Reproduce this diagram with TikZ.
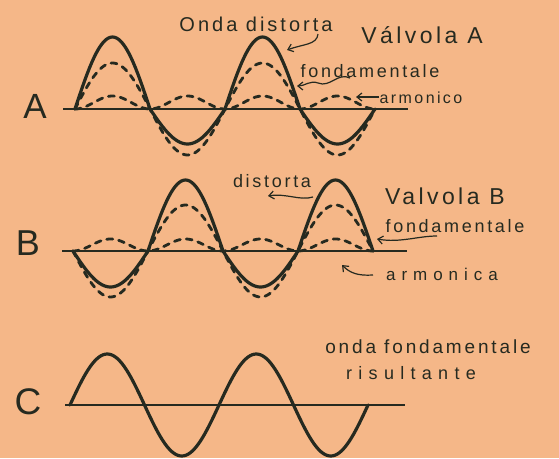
\documentclass[tikz,border=0pt]{standalone}
\usepackage{fontspec}
\setmainfont{Liberation Sans}
\newfontfamily\handfont[LetterSpace=15]{Liberation Sans}
\newfontfamily\widefont[LetterSpace=35]{Liberation Sans}
\usetikzlibrary{arrows.meta}
\definecolor{paper}{RGB}{245,183,136}
\definecolor{ink}{RGB}{38,42,32}
\newcommand{\penfont}[1]{\handfont\fontsize{#1}{#1}\selectfont}
\newcommand{\widepen}[1]{\widefont\fontsize{#1}{#1}\selectfont}
\tikzset{
  wave/.style={ink, line width=3.2pt, line cap=round, line join=round},
  dashwave/.style={ink, line width=2.8pt, line cap=round, dash pattern=on 6pt off 6pt},
  axis/.style={ink, line width=2.8pt},
  pointer/.style={ink, line width=1.2pt, -{Straight Barb[length=5pt,width=8pt]}},
  lbl/.style={ink, inner sep=0pt}
}
\begin{document}
\begin{tikzpicture}[x=1pt, y=-1pt]
    % Paper
    \fill[paper] (0,0) rectangle (559,458);

    % Valvola A
    \node[lbl, font=\penfont{35}] (labA) at (35,106) {A};
    \draw[axis] (63,109) -- (408,109);
    \draw[wave] plot[domain=0:720, samples=145] ({75+\x/2.4}, {109-((sin(\x)>0) ? 72 : 35)*sin(\x)});
    \draw[dashwave] plot[domain=0:720, samples=145] ({75+\x/2.4}, {109-46*sin(\x)});
    \draw[dashwave] plot[domain=0:720, samples=145] ({75+\x/2.4}, {109-13*sin(\x)^2});
    \node[lbl, font=\penfont{20}] (distA) at (256,24) {Onda distorta};
    \node[lbl, font=\penfont{23}] (valvA) at (422,35) {Válvola A};
    \node[lbl, font=\penfont{18}] (fondA) at (370,71) {fondamentale};
    \node[lbl, font=\penfont{16}] (armA) at (421,98) {armonico};
    \coordinate (distAtail) at (318,34);
    \coordinate (distAtip) at (287,50);
    \coordinate (fondAtail) at (350,78);
    \coordinate (fondAtip) at (297,86);
    \coordinate (armAtail) at (379,97);
    \coordinate (armAtip) at (356,97);
    \draw[pointer] (distAtail) .. controls (317,45) and (303,44) .. (distAtip);
    \draw[pointer] (fondAtail) .. controls (338,72) and (330,88) .. (318,83) .. controls (310,80) and (305,86) .. (fondAtip);
    \draw[pointer] (armAtail) -- (armAtip);

    % Valvola B
    \node[lbl, font=\penfont{36}] (labB) at (28,243) {B};
    \draw[axis] (62,251) -- (407,251);
    \draw[wave] plot[domain=0:720, samples=145] ({73+\x/2.4}, {251+((sin(\x)>0) ? 36 : 71)*sin(\x)});
    \draw[dashwave] plot[domain=0:720, samples=145] ({73+\x/2.4}, {251+46*sin(\x)});
    \draw[dashwave] plot[domain=0:720, samples=145] ({73+\x/2.4}, {251-12*sin(\x)^2});
    \node[lbl, font=\penfont{18}] (distB) at (272,181) {distorta};
    \node[lbl, font=\penfont{23}] (valvB) at (445,196) {Valvola B};
    \node[lbl, font=\penfont{18}] (fondB) at (455,226) {fondamentale};
    \node[lbl, font=\widepen{17}] (armB) at (442,274) {armonica};
    \coordinate (distBtail) at (313,197);
    \coordinate (distBtip) at (268,196);
    \coordinate (fondBtail) at (437,236);
    \coordinate (fondBtip) at (377,239);
    \coordinate (armBtail) at (373,275);
    \coordinate (armBtip) at (342,265);
    \draw[pointer] (distBtail) .. controls (300,201) and (286,193) .. (distBtip);
    \draw[pointer] (fondBtail) .. controls (418,236) and (400,243) .. (fondBtip);
    \draw[pointer] (armBtail) .. controls (358,276) and (350,273) .. (armBtip);

    % Risultante C
    \node[lbl, font=\penfont{37}] (labC) at (28,402) {C};
    \draw[axis] (65,405) -- (405,405);
    \draw[wave] plot[domain=0:720, samples=145] ({70+\x/2.416}, {405-51*sin(\x)});
    \node[lbl, font=\penfont{19}] (fondC) at (428,347) {onda fondamentale};
    \node[lbl, font=\widepen{18}] (risC) at (411,373) {risultante};
\end{tikzpicture}
\end{document}
